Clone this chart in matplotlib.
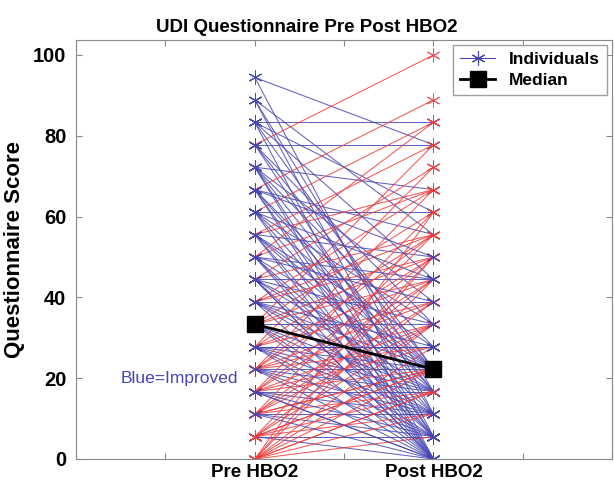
#!/usr/bin/python

import numpy as np
import matplotlib
matplotlib.use('Agg')
import matplotlib.pyplot as plt
from matplotlib.lines import Line2D

plt.rcParams['font.family'] = ['Liberation Sans', 'DejaVu Sans']

step = 100 / 18
pre_steps = [17, 17, 16, 16, 15, 15, 15, 15, 14, 14, 14, 14, 13, 13, 13, 13,
             12, 12, 12, 12, 12, 11, 11, 11, 11, 11, 10, 10, 10, 10, 10,
             9, 9, 9, 9, 9, 8, 8, 8, 8, 8, 8, 7, 7, 7, 7, 7, 7,
             6, 6, 6, 6, 6, 6, 6, 6, 5, 5, 5, 5, 5, 5, 5,
             4, 4, 4, 4, 4, 4, 4, 4, 3, 3, 3, 3, 3, 3, 3,
             2, 2, 2, 2, 2, 2, 2, 1, 1, 1, 1, 1, 1, 0, 0, 0, 0, 0, 0, 0,
             0, 0, 0, 1, 1, 2, 2, 2, 3, 3, 3, 4, 4, 4, 5, 5, 5, 6, 6,
             7, 7, 7, 8, 8, 9, 9, 10, 10, 10, 11, 11, 12, 12, 13, 13,
             14, 15, 16, 8, 9, 0, 1, 3, 5]
post_steps = [14, 2, 10, 3, 15, 11, 4, 0, 18, 14, 4, 2, 12, 7, 3, 0,
              16, 10, 4, 1, 0, 15, 11, 6, 4, 0, 14, 9, 4, 3, 1,
              15, 12, 8, 4, 2, 13, 8, 6, 4, 1, 0, 12, 10, 7, 4, 3, 0,
              14, 11, 9, 6, 4, 2, 1, 0, 13, 10, 8, 5, 4, 3, 1,
              12, 9, 7, 6, 4, 2, 1, 0, 11, 8, 5, 4, 3, 2, 0,
              10, 8, 6, 4, 4, 2, 1, 9, 7, 4, 3, 1, 0, 11, 9, 6, 4, 3, 2, 0,
              8, 5, 1, 6, 2, 7, 3, 0, 9, 6, 1, 10, 5, 3, 7, 2, 0, 8, 3,
              9, 5, 2, 10, 3, 7, 1, 12, 5, 0, 8, 2, 9, 3, 5, 1,
              6, 8, 1, 0, 0, 3, 4, 0, 5]
groups = ['Pre HBO2', 'Post HBO2']

pre = np.array(pre_steps) * step
post = np.array(post_steps) * step

blue = '#4646b4'
red = '#f23c3c'
ast = (6, 2, 0)

fig = plt.figure(figsize=(6.14, 4.86), dpi=100)
ax = fig.add_axes([0.124, 0.0556, 0.873, 0.862])

for a, b in zip(pre, post):
    c = blue if b <= a else red
    ax.plot([1, 2], [a, b], color=c, lw=0.75, marker=ast, ms=10, mew=0.7, alpha=0.85)

ax.plot([1, 2], [np.median(pre), np.median(post)], color='black', lw=2,
        marker='s', ms=12, zorder=5)

ax.text(0.25, 20, 'Blue=Improved', color=blue, fontsize=12.5, va='center', ha='left')

ax.set_xlim(0, 3)
ax.set_ylim(0, 103.7)
ax.set_xticks([0, 0.5, 1, 1.5, 2, 2.5, 3])
ax.set_xticklabels(['', '', groups[0], '', groups[1], '', ''],
                   fontsize=13.5, fontweight='bold')
ax.set_yticks(range(0, 101, 20))
ax.set_yticklabels([str(v) for v in range(0, 101, 20)], fontsize=14.5, fontweight='bold')
ax.tick_params(direction='in', top=True, right=True, length=4, color='#888888')
ax.tick_params(axis='y', pad=7)
for s in ax.spines.values():
    s.set_color('#888888')
ax.set_ylabel('Questionnaire Score', fontsize=16, fontweight='bold', labelpad=6)
ax.set_title('UDI Questionnaire Pre Post HBO2', fontsize=13.5, fontweight='bold',
             x=0.431)

handles = [Line2D([], [], color=blue, lw=0.8, marker=ast, ms=10, mew=0.8),
           Line2D([], [], color='black', lw=2, marker='s', ms=11)]
leg = ax.legend(handles, ['Individuals', 'Median'], loc='upper right',
                prop={'weight': 'bold', 'size': 12.5}, fancybox=False,
                handlelength=2, borderaxespad=0.3, labelspacing=0.3)
leg.get_frame().set_edgecolor('#888888')

plt.savefig('out.png')
plt.close()
